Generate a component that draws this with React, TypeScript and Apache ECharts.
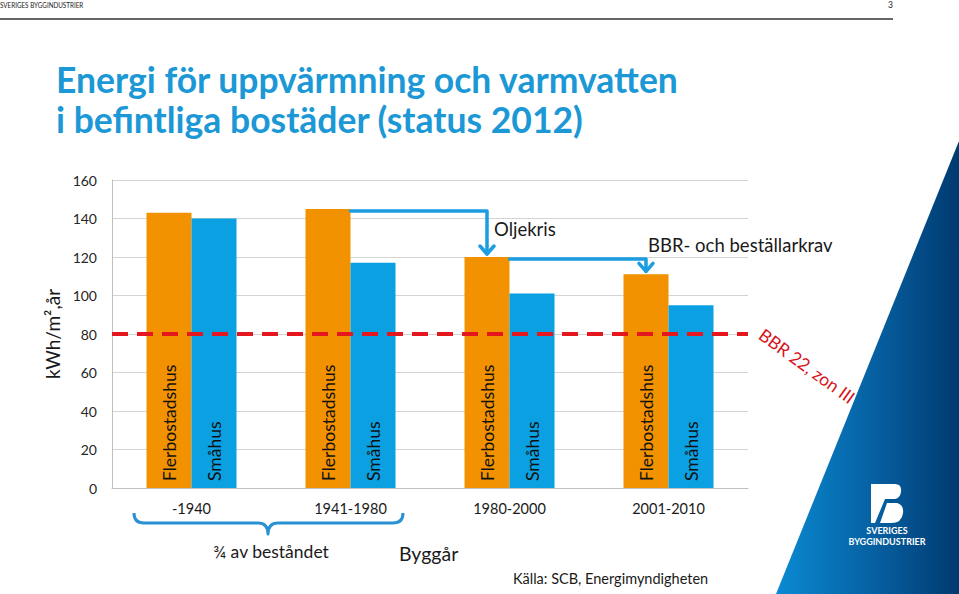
import React, { useEffect, useRef } from "react";
import * as echarts from "echarts";

const categories = ["-1940", "1941-1980", "1980-2000", "2001-2010"];
const flerbostadshus = [143, 145, 120, 111];
const smahus = [140, 117, 101, 95];
const bbrLimit = 80;
const yMin = 0;
const yMax = 160;
const yInterval = 20;
// arrows: from category index (top of Flerbostadshus bar) to next category's Flerbostadshus bar
const arrowPairs = [
  [1, 2],
  [2, 3],
];
const arrowLabels = ["Oljekris", "BBR- och beställarkrav"];

const FONT = "Lato, 'Open Sans', sans-serif";
const BAR_W = 45;

const BRACE_D =
  "M0,0 Q0,10 10,10 L124,10 Q134,10 134,21 Q134,10 144,10 L259,10 Q269,10 269,0";
const LOGO_D =
  "M0,0 L24,0 Q31,0 30,8 Q29,14 24,15 L14,15 L4,39 L0,39 Z M16,19 L26,19 Q33,21 32,29 Q31,39 20,39 L9,39 Z";

let registered = false;
function registerShapes() {
  if (registered) return;
  registered = true;
  echarts.graphic.registerShape("brace", echarts.graphic.extendPath(BRACE_D, {}));
  echarts.graphic.registerShape("sbLogo", echarts.graphic.extendPath(LOGO_D, {}));
}

export default function App() {
  const ref = useRef<HTMLDivElement>(null);

  useEffect(() => {
    if (!ref.current) return;
    registerShapes();
    const chart = echarts.init(ref.current, undefined, { renderer: "svg" });

    const arrowData = arrowPairs.map(([a, b]) => [a, flerbostadshus[a], b, flerbostadshus[b]]);

    const barLabel = {
      show: true,
      position: "insideBottom",
      rotate: 90,
      align: "left",
      verticalAlign: "middle",
      distance: 7,
      formatter: "{a}",
      color: "#111111",
      fontSize: 17.5,
      fontFamily: FONT,
    };

    const option: any = {
      animation: false,
      backgroundColor: "#ffffff",
      textStyle: { fontFamily: FONT },
      grid: { left: 112, right: 211, top: 180, bottom: 106, containLabel: false },
      xAxis: {
        type: "category",
        data: categories,
        axisLine: { show: true, lineStyle: { color: "#bfbfbf", width: 1 } },
        axisTick: { show: false },
        axisLabel: { color: "#1a1a1a", fontSize: 14.5, margin: 13, fontFamily: FONT },
        splitLine: { show: false },
      },
      yAxis: {
        type: "value",
        min: yMin,
        max: yMax,
        interval: yInterval,
        name: "kWh/m²,år",
        nameLocation: "middle",
        nameRotate: 90,
        nameGap: 46,
        nameTextStyle: { color: "#1a1a1a", fontSize: 19, fontFamily: FONT },
        axisLine: { show: true, lineStyle: { color: "#bfbfbf", width: 1 } },
        axisTick: { show: false },
        axisLabel: { color: "#262626", fontSize: 14, margin: 15, fontFamily: FONT },
        splitLine: { show: true, lineStyle: { color: "#d4d4d4", width: 1 } },
      },
      series: [
        {
          name: "Flerbostadshus",
          type: "bar",
          data: flerbostadshus,
          barWidth: BAR_W,
          barGap: "0%",
          itemStyle: { color: "#f39200" },
          label: barLabel,
          z: 2,
        },
        {
          name: "Småhus",
          type: "bar",
          data: smahus,
          barWidth: BAR_W,
          barGap: "0%",
          itemStyle: { color: "#0aa0e2" },
          label: barLabel,
          z: 2,
        },
        {
          name: "BBR-gräns",
          type: "line",
          data: [],
          z: 5,
          silent: true,
          markLine: {
            silent: true,
            symbol: ["none", "none"],
            label: { show: false },
            lineStyle: { color: "#e4161e", width: 4, type: [16, 9] },
            data: [{ yAxis: bbrLimit }],
          },
        },
        {
          name: "Pilar",
          type: "custom",
          z: 6,
          silent: true,
          encode: { x: [0, 2], y: [1, 3] },
          data: arrowData,
          renderItem: (params: any, api: any) => {
            const p0 = api.coord([api.value(0), api.value(1)]);
            const p1 = api.coord([api.value(2), api.value(3)]);
            const sx = p0[0];
            const sy = p0[1] + 2;
            const ex = p1[0] - BAR_W / 2;
            const ey = p1[1] - 3;
            const style = {
              stroke: "#1b9de0",
              lineWidth: 3.5,
              fill: "none",
              lineJoin: "round",
              lineCap: "round",
            };
            return {
              type: "group",
              children: [
                { type: "polyline", shape: { points: [[sx, sy], [ex, sy], [ex, ey]] }, style },
                {
                  type: "polyline",
                  shape: { points: [[ex - 7, ey - 8], [ex, ey], [ex + 7, ey - 8]] },
                  style,
                },
              ],
            };
          },
        },
      ],
      graphic: [
        {
          type: "polygon",
          z: -10,
          silent: true,
          shape: { points: [[959, 141], [959, 594], [776, 594]] },
          style: {
            fill: new echarts.graphic.LinearGradient(0, 0, 1, 0, [
              { offset: 0, color: "#0a8ad2" },
              { offset: 0.55, color: "#065fa0" },
              { offset: 1, color: "#003a70" },
            ]),
          },
        },
        {
          type: "sbLogo",
          x: 871,
          y: 484,
          style: { fill: "#ffffff" },
        },
        {
          type: "text",
          x: 887,
          y: 530,
          style: {
            text: "SVERIGES",
            fill: "#ffffff",
            font: "bold 9px " + FONT,
            align: "center",
            verticalAlign: "middle",
          },
        },
        {
          type: "text",
          x: 887,
          y: 541,
          style: {
            text: "BYGGINDUSTRIER",
            fill: "#ffffff",
            font: "bold 9px " + FONT,
            align: "center",
            verticalAlign: "middle",
          },
        },
        {
          type: "text",
          x: 0,
          y: 5,
          scaleX: 0.74,
          style: {
            text: "SVERIGES BYGGINDUSTRIER",
            fill: "#1a1a1a",
            font: "8.5px " + FONT,
            align: "left",
            verticalAlign: "middle",
          },
        },
        {
          type: "text",
          x: 893,
          y: 5,
          style: {
            text: "3",
            fill: "#1a1a1a",
            font: "8.5px " + FONT,
            align: "right",
            verticalAlign: "middle",
          },
        },
        {
          type: "line",
          shape: { x1: 0, y1: 19, x2: 893, y2: 19 },
          style: { stroke: "#333333", lineWidth: 1.5 },
        },
        {
          type: "text",
          x: 56,
          y: 79,
          style: {
            text: "Energi för uppvärmning och varmvatten",
            fill: "#1b98d5",
            font: "bold 35.5px " + FONT,
            align: "left",
            verticalAlign: "middle",
          },
        },
        {
          type: "text",
          x: 56,
          y: 119,
          style: {
            text: "i befintliga bostäder (status 2012)",
            fill: "#1b98d5",
            font: "bold 35.5px " + FONT,
            align: "left",
            verticalAlign: "middle",
          },
        },
        {
          type: "text",
          x: 494,
          y: 229,
          style: {
            text: arrowLabels[0],
            fill: "#1a1a1a",
            font: "18.5px " + FONT,
            align: "left",
            verticalAlign: "middle",
          },
        },
        {
          type: "text",
          x: 648,
          y: 245,
          style: {
            text: arrowLabels[1],
            fill: "#1a1a1a",
            font: "18.5px " + FONT,
            align: "left",
            verticalAlign: "middle",
          },
        },
        {
          type: "text",
          x: 807,
          y: 366,
          rotation: (-36 * Math.PI) / 180,
          style: {
            text: "BBR 22, zon III",
            fill: "#d7141c",
            font: "17.5px " + FONT,
            align: "center",
            verticalAlign: "middle",
          },
        },
        {
          type: "brace",
          x: 134,
          y: 513,
          style: { stroke: "#2a92d4", lineWidth: 3, fill: "none", lineJoin: "round" },
        },
        {
          type: "text",
          x: 271,
          y: 551,
          style: {
            text: "¾ av beståndet",
            fill: "#1a1a1a",
            font: "17.5px " + FONT,
            align: "center",
            verticalAlign: "middle",
          },
        },
        {
          type: "text",
          x: 399,
          y: 553,
          style: {
            text: "Byggår",
            fill: "#1a1a1a",
            font: "19.5px " + FONT,
            align: "left",
            verticalAlign: "middle",
          },
        },
        {
          type: "text",
          x: 513,
          y: 578,
          style: {
            text: "Källa: SCB, Energimyndigheten",
            fill: "#1a1a1a",
            font: "14.5px " + FONT,
            align: "left",
            verticalAlign: "middle",
          },
        },
      ],
    };

    chart.setOption(option);
    return () => {
      chart.dispose();
    };
  }, []);

  return (
    <div
      ref={ref}
      style={{ position: "fixed", left: 0, top: 0, width: 959, height: 594, background: "#fff" }}
    />
  );
}
